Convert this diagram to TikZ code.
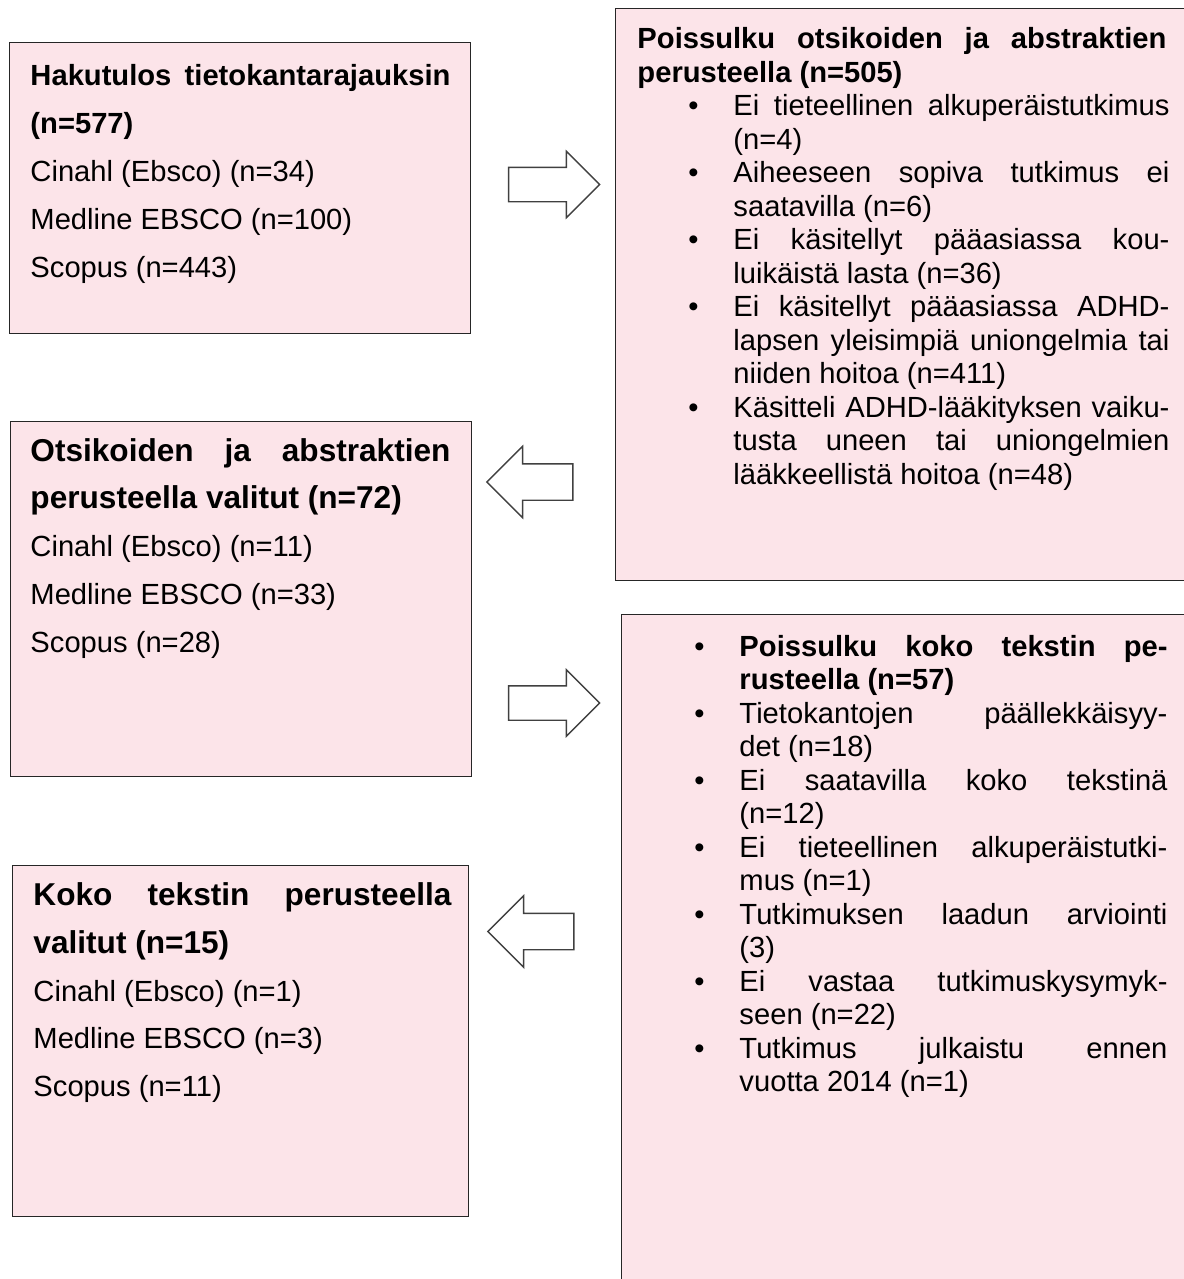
\documentclass[tikz,border=0pt]{standalone}
\usepackage{fontspec}
\setmainfont{Liberation Sans}
\usepackage{xcolor}
\usetikzlibrary{shapes.arrows}

\newlength{\px}
\setlength{\px}{0.4115pt}
\hyphenpenalty=10000
\exhyphenpenalty=10000

\definecolor{boxpink}{RGB}{252,228,233}
\definecolor{arrowgray}{RGB}{64,64,64}

% bullet hanging left of the item text
\newcommand{\bul}{\noindent\llap{\textbullet\hspace{35\px}}}

\tikzset{
  flowbox/.style={draw=black!85, fill=boxpink, line width=0.5pt, anchor=north west, inner sep=0pt},
  boxtext/.style={anchor=base west, inner sep=0pt, align=justify, font=\fontsize{12}{19.75}\selectfont},
  listtext/.style={anchor=base west, inner sep=0pt, align=justify, font=\fontsize{12}{13.79}\selectfont},
  blockarrow/.style={single arrow, draw=arrowgray, fill=white, line width=0.6pt, inner sep=0pt, single arrow tip angle=90},
  rightarrow/.style={blockarrow, minimum height=91\px, text height=16.5\px, text depth=16.5\px, single arrow head extend=16\px},
  leftarrow/.style={blockarrow, shape border rotate=180, minimum height=86\px, text height=17.5\px, text depth=17.5\px, single arrow head extend=17.5\px}
}

\begin{document}
\begin{tikzpicture}[x=0.4115pt, y=-0.4115pt]
\useasboundingbox (0,0) rectangle (1184,1279);

% boxes
\node[flowbox, minimum width=461\px, minimum height=291\px] (hakutulos) at (9,42) {};
\node[flowbox, minimum width=580\px, minimum height=572\px] (poissulkuOts) at (615,8) {};
\node[flowbox, minimum width=461\px, minimum height=355\px] (valitutOts) at (10,421) {};
\node[flowbox, minimum width=574\px, minimum height=676\px] (poissulkuKoko) at (621,614) {};
\node[flowbox, minimum width=456\px, minimum height=351\px] (valitutKoko) at (12,865) {};

% left column
\node[boxtext, text width=420\px] (hakutulosTxt) at (30,85.5) {\textbf{Hakutulos tietokantarajauksin\linebreak (n=577)}\\
  Cinahl (Ebsco) (n=34)\\ Medline EBSCO (n=100)\\ Scopus (n=443)};
\node[boxtext, text width=420\px] (valitutOtsTxt) at (30,461) {{\fontsize{13}{19.75}\selectfont\bfseries Otsikoiden ja abstraktien\linebreak perusteella valitut (n=72)\par}
  Cinahl (Ebsco) (n=11)\\ Medline EBSCO (n=33)\\ Scopus (n=28)};
\node[boxtext, text width=418\px] (valitutKokoTxt) at (33,905) {{\fontsize{13}{19.75}\selectfont\bfseries Koko tekstin perusteella\linebreak valitut (n=15)\par}
  Cinahl (Ebsco) (n=1)\\ Medline EBSCO (n=3)\\ Scopus (n=11)};

% right column
\node[listtext, text width=529\px] (poissulkuOtsHead) at (637,48.5) {\bfseries Poissulku otsikoiden ja abstraktien\linebreak perusteella (n=505)};
\node[listtext, text width=436\px] (poissulkuOtsList) at (733,115.5) {\bul Ei tieteellinen alkuperäistutkimus\linebreak (n=4)\par
  \bul Aiheeseen sopiva tutkimus ei\linebreak saatavilla (n=6)\par
  \bul Ei käsitellyt pääasiassa kou-\linebreak luikäistä lasta (n=36)\par
  \bul Ei käsitellyt pääasiassa ADHD-\linebreak lapsen yleisimpiä uniongelmia tai\linebreak niiden hoitoa (n=411)\par
  \bul Käsitteli ADHD-lääkityksen vaiku-\linebreak tusta uneen tai uniongelmien\linebreak lääkkeellistä hoitoa (n=48)};
\node[listtext, text width=428\px] (poissulkuKokoList) at (739,656) {\bul\textbf{Poissulku koko tekstin pe-\linebreak rusteella (n=57)}\par
  \bul Tietokantojen päällekkäisyy-\linebreak det (n=18)\par
  \bul Ei saatavilla koko tekstinä\linebreak (n=12)\par
  \bul Ei tieteellinen alkuperäistutki-\linebreak mus (n=1)\par
  \bul Tutkimuksen laadun arviointi\linebreak (3)\par
  \bul Ei vastaa tutkimuskysymyk-\linebreak seen (n=22)\par
  \bul Tutkimus julkaistu ennen\linebreak vuotta 2014 (n=1)};

% block arrows
\node[rightarrow] (toPoisOts) at (545.5,184.5) {};
\node[leftarrow] (toValOts) at (539,482) {};
\node[rightarrow] (toPoisKoko) at (545.5,703) {};
\node[leftarrow] (toValKoko) at (540,931.5) {};
\end{tikzpicture}
\end{document}
